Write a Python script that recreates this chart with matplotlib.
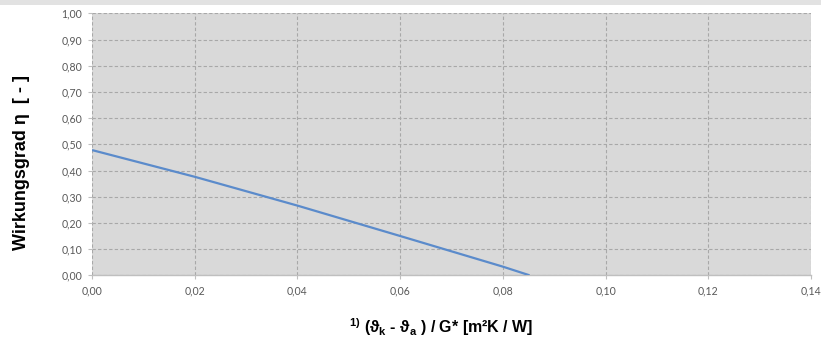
import matplotlib
matplotlib.use("Agg")
import matplotlib.pyplot as plt
from matplotlib.patches import Rectangle
from matplotlib.ticker import FuncFormatter

plt.rcParams["mathtext.fontset"] = "custom"
plt.rcParams["mathtext.rm"] = "Liberation Sans"
plt.rcParams["mathtext.it"] = "Liberation Sans:italic"
plt.rcParams["mathtext.bf"] = "Liberation Sans:bold"

# Data
x_vals = [0.0, 0.02, 0.04, 0.06, 0.08, 0.0852]
eta_vals = [0.478, 0.376, 0.266, 0.150, 0.033, 0.0]

x_ticks = [0.00, 0.02, 0.04, 0.06, 0.08, 0.10, 0.12, 0.14]
y_ticks = [0.0, 0.1, 0.2, 0.3, 0.4, 0.5, 0.6, 0.7, 0.8, 0.9, 1.0]

y_label = "Wirkungsgrad η  [ - ]"
x_label = r"$^{\mathbf{1)}}$ (ϑ$_{\mathbf{k}}$ - ϑ$_{\mathbf{a}}$ ) / G* [m²K / W]"

fig = plt.figure(figsize=(8.21, 3.38), dpi=100)
fig.patch.set_facecolor("white")
fig.patches.append(Rectangle((0, 1 - 5 / 338), 1, 5 / 338, transform=fig.transFigure,
                             facecolor="#e2e2e2", edgecolor="none", zorder=0))

ax = fig.add_axes([92 / 821, 1 - 275.3 / 338, (811 - 92) / 821, (275.3 - 13.3) / 338])
ax.set_facecolor("#d9d9d9")
ax.plot(x_vals, eta_vals, color="#5b8bcb", lw=1.6, solid_capstyle="butt", zorder=3)

ax.set_xlim(0, 0.14)
ax.set_ylim(0, 1.0)
ax.set_xticks(x_ticks)
ax.set_yticks(y_ticks)
fmt = FuncFormatter(lambda v, p: f"{v:.2f}".replace(".", ","))
ax.xaxis.set_major_formatter(fmt)
ax.yaxis.set_major_formatter(fmt)

ax.grid(True, color="#a8a8a8", linestyle=(0, (3, 2)), linewidth=0.8, zorder=1)
ax.set_axisbelow(True)
for s in ["top", "right", "left"]:
    ax.spines[s].set_visible(False)
ax.spines["bottom"].set_color("#bfbfbf")
ax.spines["bottom"].set_linewidth(1.0)

ax.tick_params(axis="both", colors="#bfbfbf", labelcolor="#595959", length=3, width=0.8)
ax.tick_params(axis="y", pad=4)
ax.tick_params(axis="x", pad=4)
for lab in ax.get_xticklabels() + ax.get_yticklabels():
    lab.set_fontfamily(["Lato", "DejaVu Sans"])
    lab.set_fontsize(7.6)

fig.text(22 / 821, 1 - 163 / 338, y_label, rotation=90, ha="center", va="center",
         fontsize=13, fontweight="bold", family=["Liberation Sans", "DejaVu Sans"], color="black")
fig.text(441 / 821, 1 - 333 / 338, x_label, ha="center", va="baseline",
         fontsize=11.5, fontweight="bold", family=["Liberation Sans", "DejaVu Sans"], color="black")

fig.savefig("out.png", dpi=100)
